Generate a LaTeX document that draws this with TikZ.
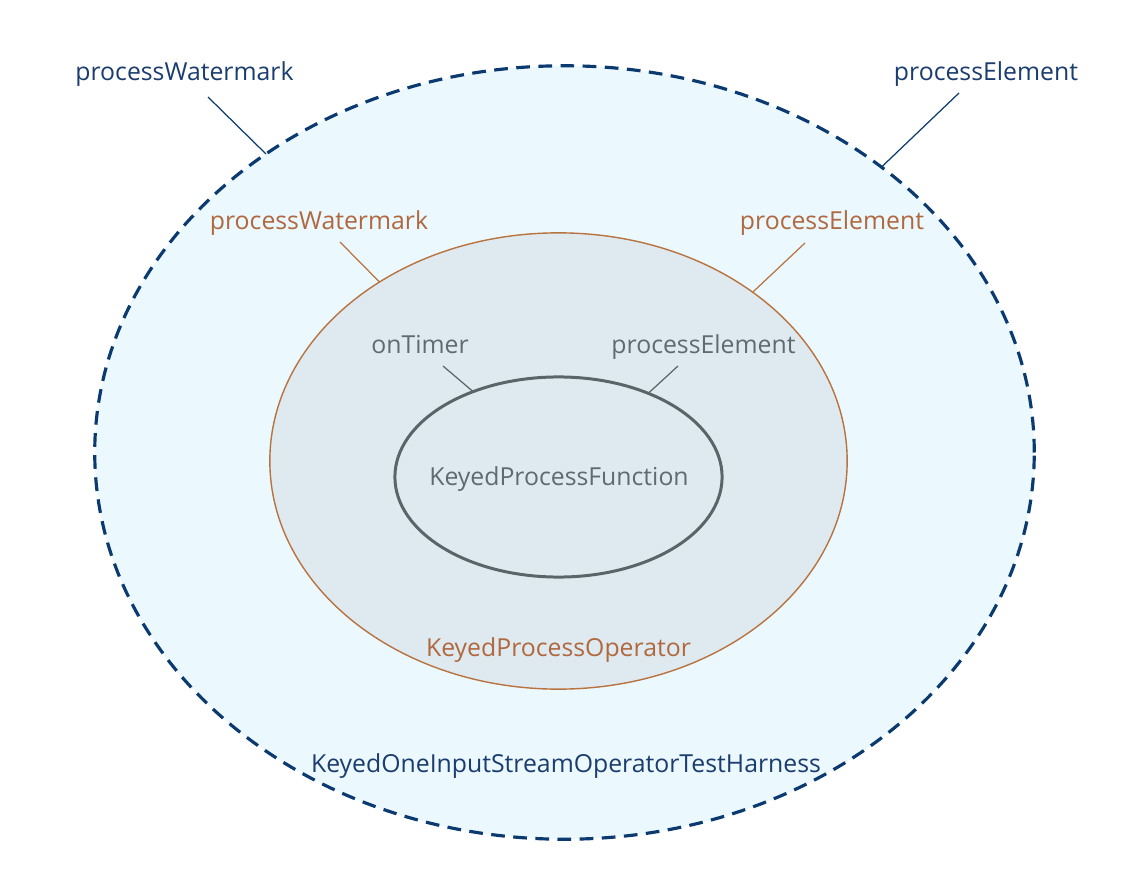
\documentclass[tikz,border=0pt]{standalone}
\usepackage{fontspec}
\setmainfont{Open Sans}
\usetikzlibrary{shapes, calc, positioning}
\definecolor{harnessblue}{HTML}{0B3A70}
\definecolor{harnesstext}{HTML}{1A3C6E}
\definecolor{harnessfill}{HTML}{EBF8FE}
\definecolor{operatororange}{HTML}{B8733F}
\definecolor{operatortext}{HTML}{B0683F}
\definecolor{operatorfill}{HTML}{DFEAF0}
\definecolor{functiongray}{HTML}{5A656A}
\definecolor{functiontext}{HTML}{5F6B70}
\tikzset{
  x=0.01cm, y=-0.01cm,
  every node/.style={font=\fontsize{7.05}{8}\selectfont},
  ell/.style={ellipse, inner sep=0pt, outer sep=0pt},
  lbl/.style={anchor=base, inner sep=0pt, outer sep=0pt},
  lead/.style={line width=0.35pt}
}

\begin{document}
\begin{tikzpicture}
  \tikzset{harness/.style={ell, draw=harnessblue, fill=harnessfill, line width=0.9pt, dash pattern=on 3.9pt off 2.4pt, minimum width=9.39cm, minimum height=7.73cm}};
  \tikzset{operator/.style={ell, draw=operatororange, fill=operatorfill, line width=0.4pt, minimum width=5.77cm, minimum height=4.56cm}};
  \tikzset{function/.style={ell, draw=functiongray, line width=0.85pt, minimum width=3.27cm, minimum height=2.0cm}};

  \useasboundingbox (0,0) rectangle (1124,882);

  \node[harness] (harness) at (564.5,452.5) {};
  \node[operator] (operator) at (558.5,461) {};
  \node[function] (function) at (558.5,477) {};

  \node[lbl, harnesstext] (hwm) at (184.5,81) {processWatermark};
  \node[lbl, harnesstext] (hel) at (986,81) {processElement};
  \node[lbl, harnesstext] (hname) at (566,772) {KeyedOneInputStreamOperatorTestHarness};

  \node[lbl, operatortext] (owm) at (319,230) {processWatermark};
  \node[lbl, operatortext] (oel) at (832,229.5) {processElement};
  \node[lbl, operatortext] (oname) at (558.5,656) {KeyedProcessOperator};

  \node[lbl, functiontext] (ftm) at (420,353.5) {onTimer};
  \node[lbl, functiontext] (fel) at (703.5,353.5) {processElement};
  \node[lbl, functiontext] (fname) at (559,485) {KeyedProcessFunction};

  \draw[lead, harnessblue] ($(hwm.base)+(23.5,16)$) -- (harness.135);
  \draw[lead, harnessblue] ($(hel.base)+(-27,12)$) -- (harness.42.2);
  \draw[lead, operatororange] ($(owm.base)+(21,12)$) -- (operator.135);
  \draw[lead, operatororange] ($(oel.base)+(-27,13.5)$) -- (operator.41.8);
  \draw[lead, functiongray] ($(ftm.base)+(23,12.5)$) -- (function.135.8);
  \draw[lead, functiongray] ($(fel.base)+(-25.5,12.5)$) -- (function.43);
\end{tikzpicture}
\end{document}
